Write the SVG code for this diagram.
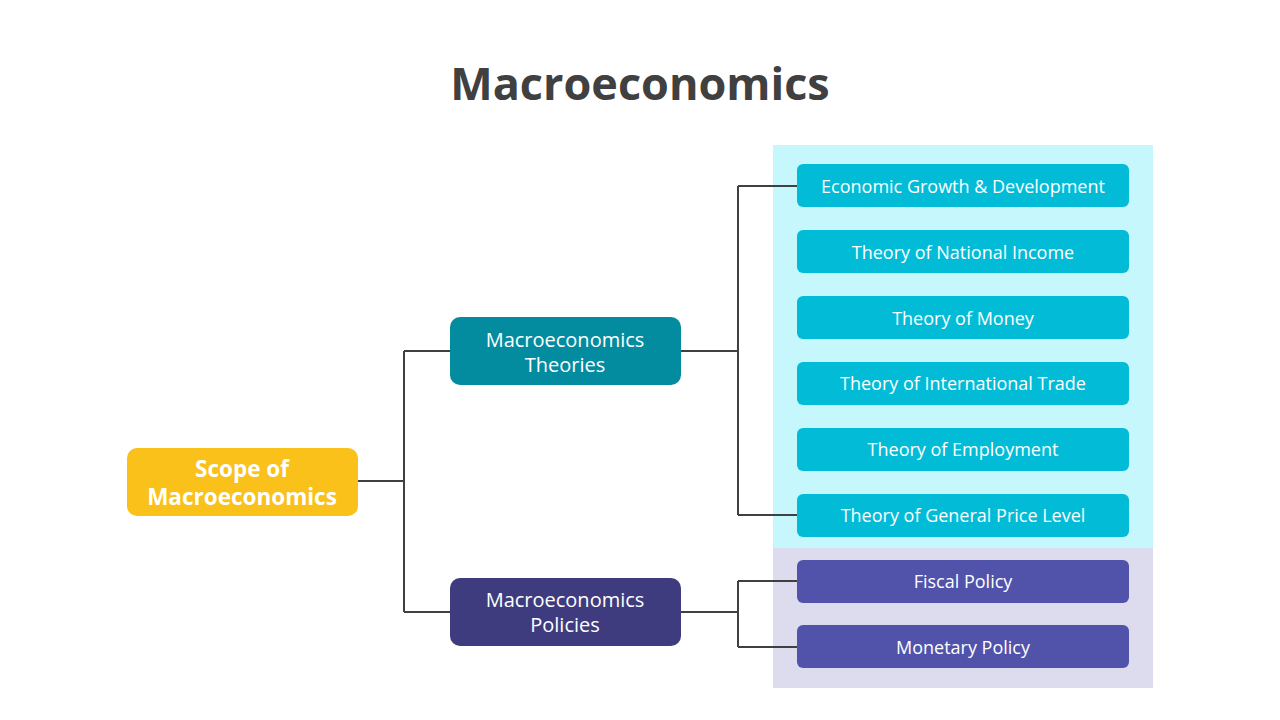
<svg xmlns="http://www.w3.org/2000/svg" width="1280" height="720" viewBox="0 0 1280 720">
<style>
text{font-family:"Open Sans","Noto Sans","Liberation Sans",sans-serif;fill:#fff;text-anchor:middle;dominant-baseline:central}
.lbl{font-size:18px}
.mid{font-size:20px}
.root{font-size:22.5px;font-weight:700}
.title{font-size:45px;font-weight:700;fill:#404040}
.leafT{fill:#02BCD7}
.leafP{fill:#5153AA}
.conn{fill:none;stroke:#404040;stroke-width:2}
</style>
<rect width="1280" height="720" fill="#fff"/>
<text class="title" x="640" y="82">Macroeconomics</text>
<rect x="773" y="145" width="380" height="403" fill="#C6F7FD"/>
<rect x="773" y="548" width="380" height="140" fill="#DDDBEE"/>
<g id="connectors">
<path class="conn" d="M358 481H404M404 351V612M404 351H450M404 612H450"/>
<path class="conn" d="M681 351H738M738 186V515M738 186H797M738 515H797"/>
<path class="conn" d="M681 612H738M738 581V647M738 581H797M738 647H797"/>
</g>
<g id="scope"><rect x="127" y="448" width="231" height="68" rx="10" fill="#F9C11A"/><text class="root" x="242" y="468">Scope of</text><text class="root" x="242" y="496">Macroeconomics</text></g>
<g id="theories"><rect x="450" y="317" width="231" height="68" rx="10" fill="#038C9F"/><text class="mid" x="565" y="339">Macroeconomics</text><text class="mid" x="565" y="364">Theories</text></g>
<g id="policies"><rect x="450" y="578" width="231" height="68" rx="10" fill="#3E3C7E"/><text class="mid" x="565" y="599">Macroeconomics</text><text class="mid" x="565" y="624">Policies</text></g>
<g id="t1"><rect class="leafT" x="797" y="164" width="332" height="43" rx="6"/><text class="lbl" x="963" y="186">Economic Growth &amp; Development</text></g>
<g id="t2"><rect class="leafT" x="797" y="230" width="332" height="43" rx="6"/><text class="lbl" x="963" y="252">Theory of National Income</text></g>
<g id="t3"><rect class="leafT" x="797" y="296" width="332" height="43" rx="6"/><text class="lbl" x="963" y="318">Theory of Money</text></g>
<g id="t4"><rect class="leafT" x="797" y="362" width="332" height="43" rx="6"/><text class="lbl" x="963" y="383">Theory of International Trade</text></g>
<g id="t5"><rect class="leafT" x="797" y="428" width="332" height="43" rx="6"/><text class="lbl" x="963" y="449">Theory of Employment</text></g>
<g id="t6"><rect class="leafT" x="797" y="494" width="332" height="43" rx="6"/><text class="lbl" x="963" y="515">Theory of General Price Level</text></g>
<g id="p1"><rect class="leafP" x="797" y="560" width="332" height="43" rx="6"/><text class="lbl" x="963" y="581">Fiscal Policy</text></g>
<g id="p2"><rect class="leafP" x="797" y="625" width="332" height="43" rx="6"/><text class="lbl" x="963" y="647">Monetary Policy</text></g>
</svg>
